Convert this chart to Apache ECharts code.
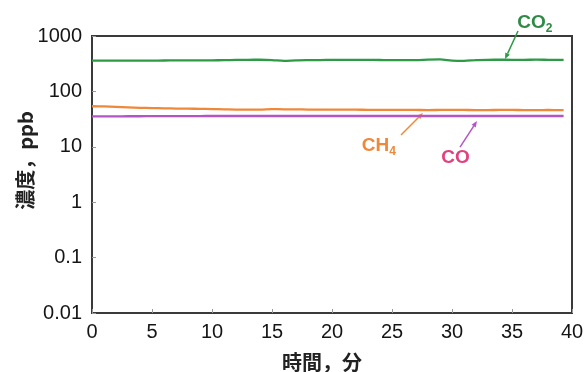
<!DOCTYPE html>
<html>
<head>
<meta charset="utf-8">
<script src="https://cdn.jsdelivr.net/npm/echarts@6/dist/echarts.min.js"></script>
<style>html,body{margin:0;padding:0;background:#fff}#c{width:586px;height:372px}</style>
</head>
<body>
<div id="c"></div>
<script>
const times = [0,1,2,3,4,5,6,7,8,9,10,11,12,13,14,15,16,17,18,19,20,21,22,23,24,25,26,27,28,29,30,31,32,33,34,35,36,37,38,39,39.3];
const co2 = [358,358,359,358,359,360,361,362,362,363,364,366,370,372,373,368,355,364,367,368,371,372,372,371,369,367,368,368,375,377,360,356,368,372,373,372,371,374,372,370,371];
const ch4 = [54,53.5,52.5,51.5,50.5,50,49.5,49,48.8,48.5,48,47.5,47,47,46.8,48,47.5,47.5,47,47,47,46.8,46.8,46.5,46.5,46.5,46.5,46.3,46,46.3,46.5,46.3,46,46,46.3,46.3,46,46,46.2,46,46];
const co = [35.5,35.5,35.5,35.6,35.6,35.7,35.8,35.8,35.8,35.9,36,36,36,36,36,36,36,36,36,36,36,36,36,36,36,36,36,36,36,36,36,36,36,36,36,36,36,36,36,36,36];
const xTicks = [0,5,10,15,20,25,30,35,40];
const yTicks = ['0.01','0.1','1','10','100','1000'];

const fontLatin = '"Liberation Sans", Arial, sans-serif';
const fontJP = '"Noto Sans CJK JP", sans-serif';
const axisColor = '#3a3a3a';

function pairs(vals){ return times.map((t,i)=>[t, vals[i]]); }

const chart = echarts.init(document.getElementById('c'));
chart.setOption({
  animation: false,
  backgroundColor: '#fff',
  grid: {left: 92, right: 14, top: 36, bottom: 59, show: true, borderColor: axisColor, borderWidth: 2,
    containLabel: false, outerBoundsMode: 'none'},
  xAxis: {
    type: 'value', min: 0, max: 40, interval: 5,
    axisLine: {show: true, lineStyle: {color: axisColor, width: 2}},
    axisTick: {show: true, inside: true, length: 4, lineStyle: {color: '#999'}},
    splitLine: {show: false},
    axisLabel: {color: '#151515', fontFamily: fontLatin, fontSize: 20, margin: 9,
      formatter: v => xTicks.includes(v) ? String(v) : ''},
    name: '時間，分', nameLocation: 'middle', nameGap: 39,
    nameTextStyle: {fontFamily: fontJP, fontSize: 20, fontWeight: 'bold', color: '#222', padding: [0, 20, 0, 0]}
  },
  yAxis: {
    type: 'log', logBase: 10, min: 0.01, max: 1000,
    axisLine: {show: true, lineStyle: {color: axisColor, width: 2}},
    axisTick: {show: true, inside: true, length: 4, lineStyle: {color: '#999'}},
    minorTick: {show: false},
    splitLine: {show: false},
    axisLabel: {color: '#151515', fontFamily: fontLatin, fontSize: 20, margin: 10,
      formatter: v => yTicks[Math.round(Math.log10(v)) + 2]},
    name: '濃度，ppb', nameLocation: 'middle', nameGap: 57, nameRotate: 90, nameMoveOverlap: false,
    nameTextStyle: {fontFamily: fontJP, fontSize: 20, fontWeight: 'bold', color: '#222', padding: [0, 0, 0, 28]}
  },
  series: [
    {name: 'CO2', type: 'line', data: pairs(co2), showSymbol: false, smooth: 0.3,
      lineStyle: {color: '#2e9a48', width: 2.3}, itemStyle: {color: '#2e9a48'}},
    {name: 'CH4', type: 'line', data: pairs(ch4), showSymbol: false, smooth: 0.3,
      lineStyle: {color: '#f0883a', width: 2.3}, itemStyle: {color: '#f0883a'}},
    {name: 'CO', type: 'line', data: pairs(co), showSymbol: false, smooth: 0.3,
      lineStyle: {color: '#b455c6', width: 2.3}, itemStyle: {color: '#b455c6'}}
  ]
});

// Annotations placed in data coordinates, converted through the chart's own scales
const annots = [
  {text: '{m|CO}{s|2}', color: '#2e8b45', line: '#2e9a48', label: [36.9, 1750], from: [35.5, 1231], to: [34.42, 384]},
  {text: '{m|CH}{s|4}', color: '#f0883a', line: '#f0883a', label: [23.9, 10.3], from: [25.75, 16.3], to: [27.58, 40.7]},
  {text: '{m|CO}', color: '#e2407f', line: '#b455c6', label: [30.3, 6.28], from: [30.67, 9.9], to: [32.08, 29.2]}
];
const px = c => chart.convertToPixel({gridIndex: 0}, c);
const elements = [];
annots.forEach(a => {
  const L = px(a.label), F = px(a.from), T = px(a.to);
  const dx = T[0] - F[0], dy = T[1] - F[1], len = Math.hypot(dx, dy);
  const ux = dx / len, uy = dy / len, h = 6, w = 2.5;
  const bx = T[0] - ux * h, by = T[1] - uy * h;
  elements.push({type: 'line', silent: true, shape: {x1: F[0], y1: F[1], x2: bx, y2: by},
    style: {stroke: a.line, lineWidth: 1.5}});
  elements.push({type: 'polygon', silent: true,
    shape: {points: [[T[0], T[1]], [bx - uy * w, by + ux * w], [bx + uy * w, by - ux * w]]},
    style: {fill: a.line}});
  elements.push({type: 'text', silent: true, x: L[0], y: L[1],
    style: {text: a.text, align: 'center', verticalAlign: 'middle',
      rich: {
        m: {fontFamily: fontLatin, fontSize: 19, fontWeight: 'bold', fill: a.color, lineHeight: 22},
        s: {fontFamily: fontLatin, fontSize: 12, fontWeight: 'bold', fill: a.color, lineHeight: 22, padding: [12, 0, 0, 0]}
      }}});
});
chart.setOption({graphic: elements});
</script>
</body>
</html>
